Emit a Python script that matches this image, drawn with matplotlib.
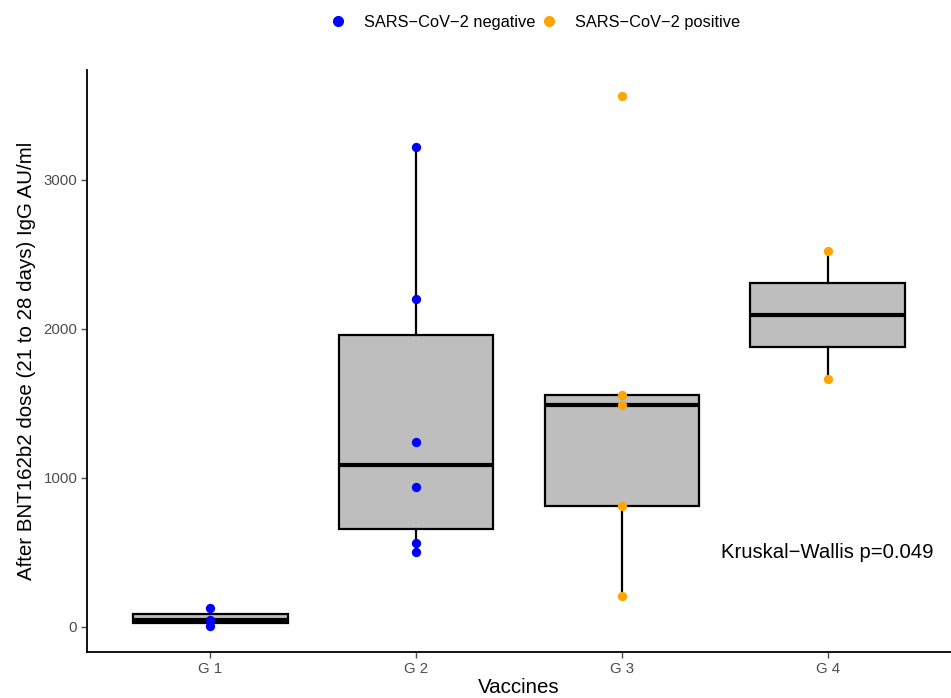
import matplotlib
matplotlib.use("Agg")
import matplotlib.pyplot as plt
from matplotlib.lines import Line2D

plt.rcParams['font.family'] = ['Liberation Sans', 'DejaVu Sans']

groups = ["G 1", "G 2", "G 3", "G 4"]
g1_neg = [5, 45, 128]
g2_neg = [504, 565, 935, 1237, 2199, 3221]
g3_pos = [204, 809, 1491, 1553, 3564]
g4_pos = [1661, 2522]
values = [g1_neg, g2_neg, g3_pos, g4_pos]
status = ["negative", "negative", "positive", "positive"]
colors = {"negative": "#0000FF", "positive": "#FFA500"}
legend_labels = ["SARS\u2212CoV\u22122 negative", "SARS\u2212CoV\u22122 positive"]
yticks = [0, 1000, 2000, 3000]
annotation = "Kruskal\u2212Wallis p=0.049"

fig = plt.figure(figsize=(9.51, 6.98), dpi=100)
ax = fig.add_axes([0.0915, 0.066, 0.9085, 0.834])

pos = list(range(1, len(groups) + 1))
ax.boxplot(values, positions=pos, widths=0.75, whis=1.5, showfliers=False,
           showcaps=False, patch_artist=True,
           boxprops=dict(facecolor="#BEBEBE", edgecolor="black", linewidth=1.6),
           whiskerprops=dict(color="black", linewidth=1.6),
           medianprops=dict(color="black", linewidth=3))

for p, vals, st in zip(pos, values, status):
    ax.scatter([p] * len(vals), vals, s=45, color=colors[st], zorder=3, linewidths=0)

ax.set_xlim(0.4, 4.6)
ax.set_ylim(-170, 3740)
ax.set_xticks(pos)
ax.set_xticklabels(groups)
ax.set_yticks(yticks)
ax.tick_params(axis='both', colors='#4D4D4D', labelsize=10.8, length=4, width=1, pad=3)
for lab in ax.get_xticklabels() + ax.get_yticklabels():
    lab.set_color('#4D4D4D')
for s in ['top', 'right']:
    ax.spines[s].set_visible(False)
for s in ['left', 'bottom']:
    ax.spines[s].set_linewidth(1.3)
    ax.spines[s].set_color('black')

ax.set_xlabel("Vaccines", fontsize=14.8, labelpad=2)
ax.set_ylabel("After BNT162b2 dose (21 to 28 days) IgG AU/ml", fontsize=14.8, labelpad=5)

ax.text(4, 500, annotation, ha='center', va='center', fontsize=14.6)

handles = [Line2D([], [], marker='o', linestyle='None', color=colors["negative"], markersize=7),
           Line2D([], [], marker='o', linestyle='None', color=colors["positive"], markersize=7)]
fig.legend(handles, legend_labels, loc='center', bbox_to_anchor=(535 / 951, 1 - 22 / 698),
           ncol=2, frameon=False, fontsize=11.8, handletextpad=1.1, columnspacing=0.3,
           handlelength=1.0)

fig.savefig("out.png", dpi=100)
